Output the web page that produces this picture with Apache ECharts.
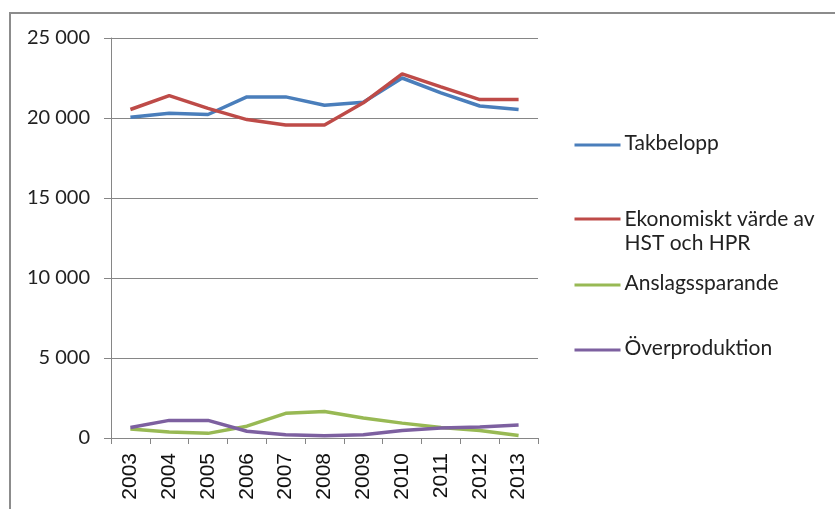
<!DOCTYPE html>
<html>
<head>
<meta charset="utf-8">
<script src="https://cdn.jsdelivr.net/npm/echarts@6/dist/echarts.min.js"></script>
<style>
  html, body { margin: 0; padding: 0; background: #fff; }
  #chart { width: 835px; height: 509px; }
</style>
</head>
<body>
<div id="chart"></div>
<script>
const years = ['2003', '2004', '2005', '2006', '2007', '2008', '2009', '2010', '2011', '2012', '2013']
const takbelopp = [20050, 20300, 20220, 21320, 21320, 20800, 20980, 22500, 21570, 20750, 20530]
const ekonomisktVarde = [20530, 21400, 20600, 19900, 19560, 19560, 20950, 22760, 21950, 21150, 21150]
const anslagssparande = [560, 370, 290, 740, 1540, 1660, 1250, 930, 660, 470, 160]
const overproduktion = [660, 1100, 1100, 420, 200, 140, 200, 470, 620, 690, 810]
const yTicks = [0, 5000, 10000, 15000, 20000, 25000]

const chart = echarts.init(document.getElementById('chart'))
const fontFamily = 'Lato, "Open Sans", sans-serif'
const legendFont = '21px ' + fontFamily

function line(name, data, color) {
  return {
    name, type: 'line', data, symbol: 'none', smooth: false,
    lineStyle: { color, width: 3.5 }, itemStyle: { color }
  }
}

chart.setOption({
  animation: false,
  graphic: [{
    type: 'rect',
    shape: { x: 10, y: 13, width: 840, height: 520 },
    style: { fill: 'none', stroke: '#8c8c8c', lineWidth: 2 },
    silent: true
  }, {
    type: 'group', left: 572, top: 133,
    children: [
      { type: 'line', shape: { x1: 0, y1: 12, x2: 46, y2: 12 }, style: { stroke: '#4a7ebb', lineWidth: 3 } },
      { type: 'text', left: 50, top: 0, style: { text: 'Takbelopp', font: legendFont, fill: '#222' } },
      { type: 'line', shape: { x1: 0, y1: 86, x2: 46, y2: 86 }, style: { stroke: '#be4b48', lineWidth: 3 } },
      { type: 'text', left: 50, top: 74, style: { text: 'Ekonomiskt värde av\nHST och HPR', font: legendFont, lineHeight: 24, fill: '#222' } },
      { type: 'line', shape: { x1: 0, y1: 152, x2: 46, y2: 152 }, style: { stroke: '#98b954', lineWidth: 3 } },
      { type: 'text', left: 50, top: 140, style: { text: 'Anslagssparande', font: legendFont, fill: '#222' } },
      { type: 'line', shape: { x1: 0, y1: 217, x2: 46, y2: 217 }, style: { stroke: '#7d60a0', lineWidth: 3 } },
      { type: 'text', left: 50, top: 205, style: { text: 'Överproduktion', font: legendFont, fill: '#222' } }
    ]
  }],
  grid: { left: 111, top: 38, width: 427, height: 400 },
  xAxis: {
    type: 'category', data: years, boundaryGap: true,
    axisLine: { lineStyle: { color: '#868686', width: 1 } },
    axisTick: { show: true, length: 6, lineStyle: { color: '#868686' } },
    axisLabel: { rotate: 90, margin: 15, fontSize: 21, color: '#111', fontFamily: '"Liberation Sans", Arial, sans-serif' }
  },
  yAxis: {
    type: 'value', min: 0, max: 25000, interval: 5000,
    axisLine: { show: true, lineStyle: { color: '#868686', width: 1 } },
    axisTick: { show: true, length: 7, lineStyle: { color: '#868686' } },
    splitLine: { lineStyle: { color: '#868686', width: 1 } },
    axisLabel: {
      margin: 21, fontSize: 20, color: '#222', fontFamily,
      formatter: v => yTicks.includes(v) ? (v >= 1000 ? Math.floor(v / 1000) + ' 000' : String(v)) : ''
    }
  },
  series: [
    line('Takbelopp', takbelopp, '#4a7ebb'),
    line('Ekonomiskt värde av HST och HPR', ekonomisktVarde, '#be4b48'),
    line('Anslagssparande', anslagssparande, '#98b954'),
    line('Överproduktion', overproduktion, '#7d60a0')
  ]
})
</script>
</body>
</html>
